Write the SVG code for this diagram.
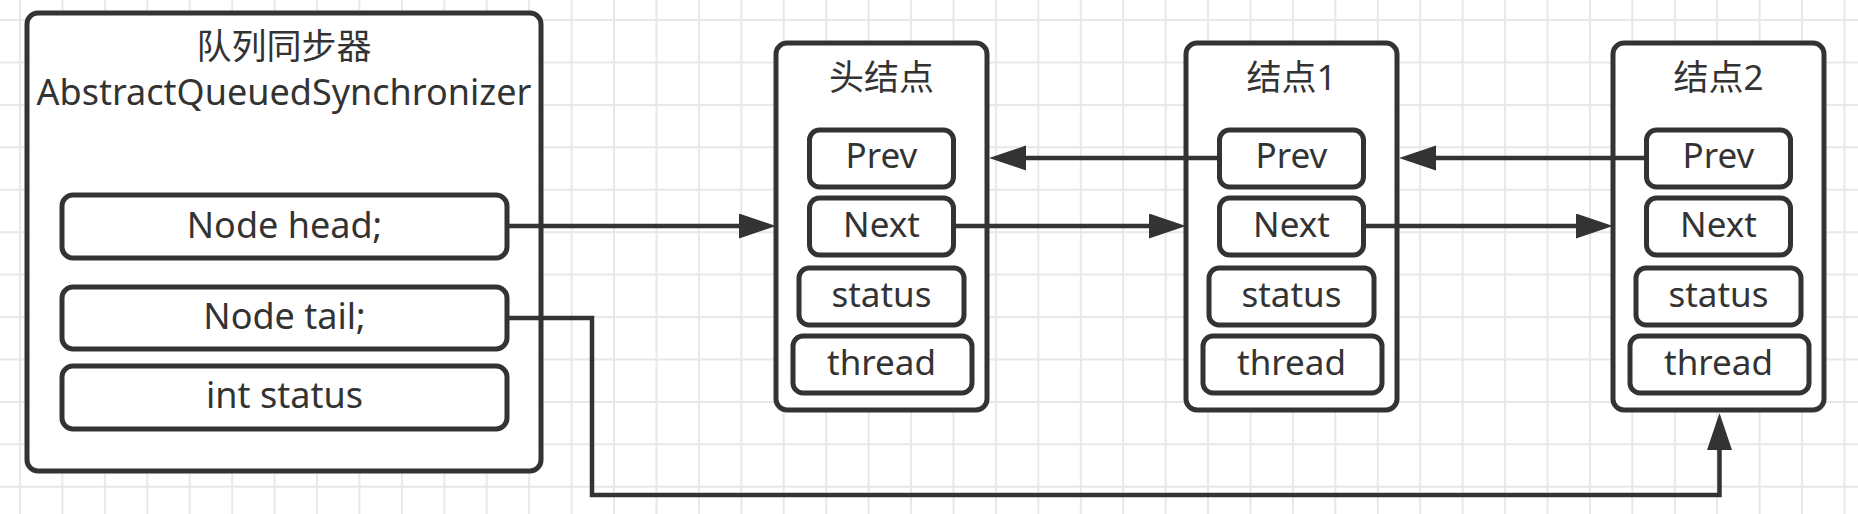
<svg xmlns="http://www.w3.org/2000/svg" width="1858" height="514" viewBox="0 0 1858 514">
<style>
.grid{stroke:#e8e8e8;stroke-width:2;fill:none}
.box{fill:#ffffff;stroke:#333333;stroke-width:5}
.fld{fill:#ffffff;stroke:#333333;stroke-width:5}
.t{font-family:"Noto Sans","Noto Sans CJK SC",sans-serif;fill:#333333;text-anchor:middle}
.ttl{font-size:35px}
.big{font-size:36px}
.f{font-size:35px}
.edge{fill:none;stroke:#333333;stroke-width:4.5}
</style>
<defs>
<marker id="arr" markerUnits="userSpaceOnUse" markerWidth="40" markerHeight="28" refX="7" refY="12.5" orient="auto">
<path d="M0,0 L37,12.5 L0,25 Z" fill="#333333"/>
</marker>
</defs>
<rect x="0" y="0" width="1858" height="514" fill="#ffffff"/>
<path class="grid" d="M20 0V514M62.4 0V514M104.9 0V514M147.3 0V514M189.7 0V514M232.2 0V514M274.6 0V514M317 0V514M359.4 0V514M401.9 0V514M444.3 0V514M486.7 0V514M529.2 0V514M571.6 0V514M614 0V514M656.5 0V514M698.9 0V514M741.3 0V514M783.7 0V514M826.2 0V514M868.6 0V514M911 0V514M953.5 0V514M995.9 0V514M1038.3 0V514M1080.8 0V514M1123.2 0V514M1165.6 0V514M1208 0V514M1250.5 0V514M1292.9 0V514M1335.3 0V514M1377.8 0V514M1420.2 0V514M1462.6 0V514M1505.1 0V514M1547.5 0V514M1589.9 0V514M1632.3 0V514M1674.8 0V514M1717.2 0V514M1759.6 0V514M1802.1 0V514M1844.5 0V514M0 20H1858M0 62.4H1858M0 104.9H1858M0 147.3H1858M0 189.7H1858M0 232.2H1858M0 274.6H1858M0 317H1858M0 359.4H1858M0 401.9H1858M0 444.3H1858M0 486.7H1858"/>

<g id="aqs">
<rect class="box" x="27" y="13" width="514" height="458" rx="11"/>
<text class="t ttl" x="284" y="59">队列同步器</text>
<text class="t big" x="284" y="105">AbstractQueuedSynchronizer</text>
<g id="aqs-head">
<rect class="fld" x="62" y="195" width="445" height="63" rx="11"/>
<text class="t big" x="284.5" y="238">Node head;</text>
</g>
<g id="aqs-tail">
<rect class="fld" x="62" y="287" width="445" height="62" rx="11"/>
<text class="t big" x="284.5" y="329">Node tail;</text>
</g>
<g id="aqs-status">
<rect class="fld" x="62" y="366" width="445" height="63" rx="11"/>
<text class="t big" x="284.5" y="408">int status</text>
</g>
</g>

<g id="head-node">
<rect class="box" x="776" y="43" width="211" height="367" rx="11"/>
<text class="t ttl" x="881.5" y="90">头结点</text>
<rect class="fld" x="809.5" y="130" width="144" height="57" rx="10"/>
<text class="t f" x="881.5" y="168">Prev</text>
<rect class="fld" x="809.5" y="198" width="144" height="57" rx="10"/>
<text class="t f" x="881.5" y="237">Next</text>
<rect class="fld" x="799" y="268" width="165" height="57" rx="10"/>
<text class="t f" x="881.5" y="307">status</text>
<rect class="fld" x="793" y="336" width="179" height="57" rx="10"/>
<text class="t f" x="881.5" y="375">thread</text>
</g>

<g id="node1">
<rect class="box" x="1186" y="43" width="211" height="367" rx="11"/>
<text class="t ttl" x="1291.5" y="90">结点1</text>
<rect class="fld" x="1219.5" y="130" width="144" height="57" rx="10"/>
<text class="t f" x="1291.5" y="168">Prev</text>
<rect class="fld" x="1219.5" y="198" width="144" height="57" rx="10"/>
<text class="t f" x="1291.5" y="237">Next</text>
<rect class="fld" x="1209" y="268" width="165" height="57" rx="10"/>
<text class="t f" x="1291.5" y="307">status</text>
<rect class="fld" x="1203" y="336" width="179" height="57" rx="10"/>
<text class="t f" x="1291.5" y="375">thread</text>
</g>

<g id="node2">
<rect class="box" x="1613" y="43" width="211" height="367" rx="11"/>
<text class="t ttl" x="1718.5" y="90">结点2</text>
<rect class="fld" x="1646.5" y="130" width="144" height="57" rx="10"/>
<text class="t f" x="1718.5" y="168">Prev</text>
<rect class="fld" x="1646.5" y="198" width="144" height="57" rx="10"/>
<text class="t f" x="1718.5" y="237">Next</text>
<rect class="fld" x="1636" y="268" width="165" height="57" rx="10"/>
<text class="t f" x="1718.5" y="307">status</text>
<rect class="fld" x="1630" y="336" width="179" height="57" rx="10"/>
<text class="t f" x="1718.5" y="375">thread</text>
</g>

<g id="connectors">
<path class="edge" marker-end="url(#arr)" d="M507 226H746"/>
<path class="edge" marker-end="url(#arr)" d="M953.5 226H1156"/>
<path class="edge" marker-end="url(#arr)" d="M1363.5 226H1583"/>
<path class="edge" marker-end="url(#arr)" d="M1219.5 158H1019"/>
<path class="edge" marker-end="url(#arr)" d="M1646.5 158H1429"/>
<path class="edge" marker-end="url(#arr)" d="M507 318H592V495H1719.5V443"/>
</g>
</svg>
